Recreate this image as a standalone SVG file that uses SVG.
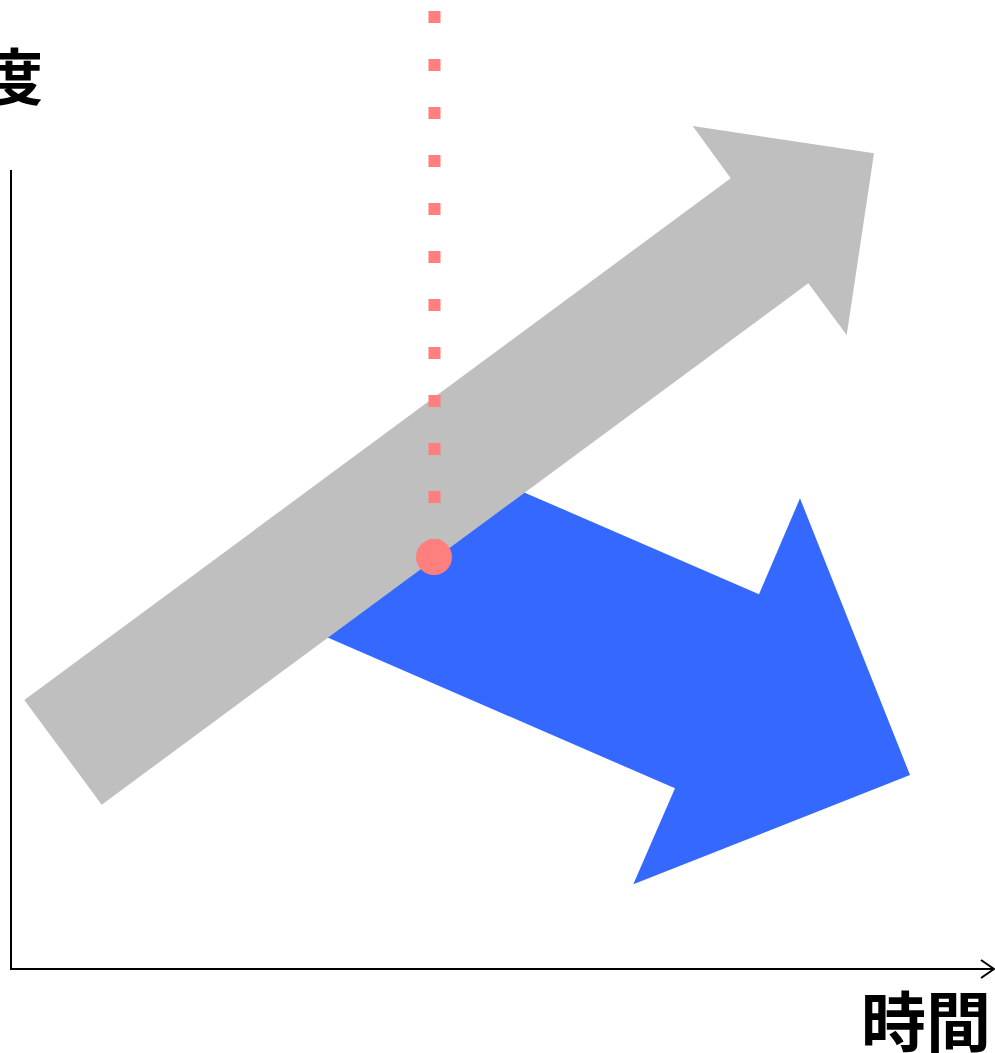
<svg xmlns="http://www.w3.org/2000/svg" width="995" height="1053" viewBox="0 0 995 1053">
  <style>
    .axis { fill: none; stroke: #000; stroke-width: 2; }
    .label { font-family: "Noto Sans CJK JP", "Noto Sans CJK SC", sans-serif; font-weight: bold; fill: #000; }
  </style>
  <rect width="995" height="1053" fill="#fff"/>
  <g id="blue-arrow">
    <polygon points="440,455.9 759,594.3 800,498.3 910,775 633.3,884.3 675,788.3 300,625.6" fill="#3568ff"/>
  </g>
  <g id="gray-arrow">
    <polygon points="24.3,700 730.7,178.3 692.7,126 874,153.3 846.7,335 808.3,283.3 101.7,804.7" fill="#bfbfbf"/>
  </g>
  <g id="connectors">
    <line x1="434.5" y1="11" x2="434.5" y2="540" stroke="#ff7f7f" stroke-width="12" stroke-dasharray="12 36"/>
    <polyline class="axis" points="11,170 11,969 994,969"/>
    <polyline class="axis" points="981,960 994,969 981,978"/>
  </g>
  <g id="point">
    <circle cx="434" cy="557" r="18" fill="#ff7f7f"/>
  </g>
  <g id="labels">
    <text class="label" x="43" y="100" text-anchor="end" font-size="61">度</text>
    <text class="label" x="991" y="1046" text-anchor="end" font-size="65">時間</text>
  </g>
</svg>
